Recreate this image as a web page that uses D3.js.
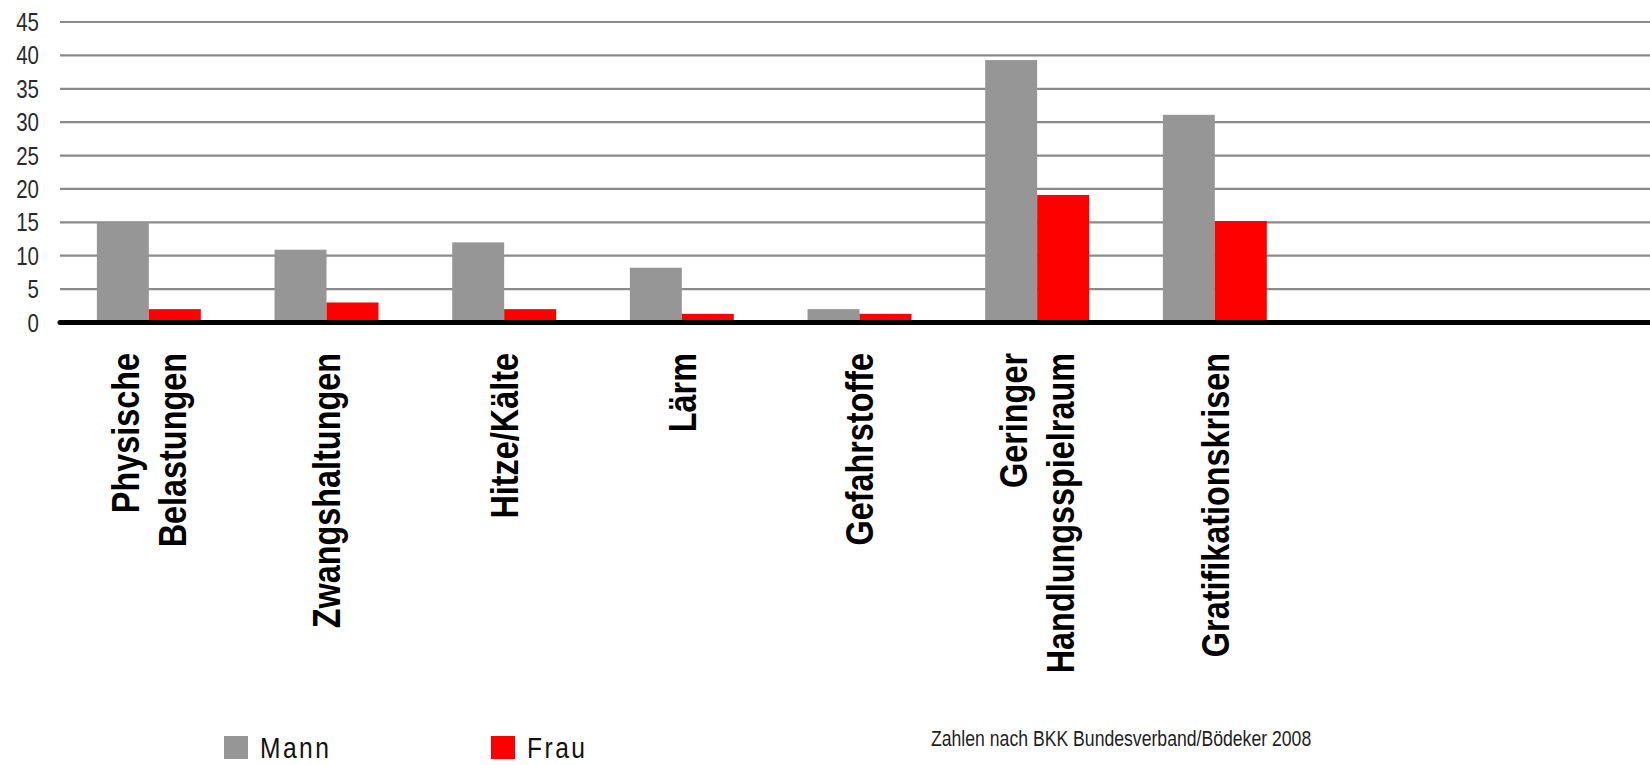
<!DOCTYPE html>
<html lang="de">
<head>
<meta charset="utf-8">
<title>Belastungen am Arbeitsplatz – Mann / Frau</title>
<script src="https://cdn.jsdelivr.net/npm/d3@7"></script>
<style>
  html, body { margin: 0; padding: 0; background: #fff; }
  svg { display: block; }
</style>
</head>
<body>
<svg id="chart" width="1650" height="765"></svg>
<script>
// ---- data -------------------------------------------------------------
const categories = [
  ["Physische", "Belastungen"],
  ["Zwangshaltungen"],
  ["Hitze/Kälte"],
  ["Lärm"],
  ["Gefahrstoffe"],
  ["Geringer", "Handlungsspielraum"],
  ["Gratifikationskrisen"],
  [],
  []
];
const seriesNames = ["Mann", "Frau"];
const mannValues = [15, 10.9, 12, 8.2, 2, 39.3, 31.1, null, null];
const frauValues = [2, 3, 2, 1.3, 1.3, 19.1, 15.2, null, null];
const yTicks = [0, 5, 10, 15, 20, 25, 30, 35, 40, 45];
const sourceNote = "Zahlen nach BKK Bundesverband/Bödeker 2008";

// ---- fonts: prefer a narrow face, otherwise squeeze a regular one ------
function fontAvailable(name) {
  const ctx = document.createElement("canvas").getContext("2d");
  const probe = "Zwangshaltungen 0123456789";
  ctx.font = "40px monospace";
  const base = ctx.measureText(probe).width;
  ctx.font = `40px "${name}", monospace`;
  return Math.abs(ctx.measureText(probe).width - base) > 0.5;
}
const narrow = fontAvailable("Liberation Sans Narrow");
const FONT = narrow ? "'Liberation Sans Narrow', 'Liberation Sans', Arial, sans-serif"
                    : "'Liberation Sans', Arial, sans-serif";
const SX = narrow ? 1 : 0.82;   // horizontal squeeze when no narrow face exists

// ---- layout -----------------------------------------------------------
const svg = d3.select("#chart");
const plotLeft = 60, plotRight = 1659;   // category axis runs past the right edge
const y0 = 322.5, yTop = 22;

const x = d3.scaleBand()
  .domain(d3.range(categories.length))
  .range([plotLeft, plotRight])
  .paddingInner(0.415)
  .paddingOuter(0.2075);

const xSub = d3.scaleBand()
  .domain(seriesNames)
  .range([0, x.bandwidth()]);

const y = d3.scaleLinear().domain([0, 45]).range([y0, yTop]);

const color = d3.scaleOrdinal().domain(seriesNames).range(["#969696", "#ff0000"]);

// ---- gridlines --------------------------------------------------------
svg.append("g")
  .selectAll("line")
  .data(yTicks.filter(t => t > 0))
  .join("line")
  .attr("x1", plotLeft)
  .attr("x2", 1650)
  .attr("y1", d => y(d))
  .attr("y2", d => y(d))
  .attr("stroke", "#8a8a8a")
  .attr("stroke-width", 2.2);

// ---- y axis labels ----------------------------------------------------
const yAxis = d3.axisLeft(y).tickValues(yTicks).tickSize(0).tickPadding(0);
const yG = svg.append("g")
  .attr("transform", `translate(${plotLeft - 21},0)`)
  .call(yAxis);
yG.select(".domain").remove();
yG.selectAll("text")
  .attr("font-family", FONT)
  .attr("font-size", 25)
  .attr("fill", "#2a2a2a")
  .attr("dy", "0.34em")
  .attr("x", 0)
  .attr("text-anchor", "end")
  .attr("transform", `scale(${SX},1)`);

// ---- bars -------------------------------------------------------------
const rows = categories.map((c, i) => ({ i, Mann: mannValues[i], Frau: frauValues[i] }));

svg.append("g")
  .selectAll("g")
  .data(rows)
  .join("g")
  .attr("transform", d => `translate(${x(d.i)},0)`)
  .selectAll("rect")
  .data(d => seriesNames.map(k => ({ key: k, value: d[k] })).filter(v => v.value != null))
  .join("rect")
  .attr("x", d => xSub(d.key))
  .attr("width", xSub.bandwidth())
  .attr("y", d => y(d.value))
  .attr("height", d => y(0) - y(d.value))
  .attr("fill", d => color(d.key));

// ---- baseline ---------------------------------------------------------
svg.append("line")
  .attr("x1", plotLeft)
  .attr("x2", 1650)
  .attr("y1", y(0))
  .attr("y2", y(0))
  .attr("stroke", "#000")
  .attr("stroke-width", 5)
  .attr("stroke-linecap", "round");

// ---- category labels (rotated, block ends just below the axis) --------
const labelTop = 353;
const lineGap = 47;
const labelG = svg.append("g");
categories.forEach((lines, i) => {
  if (!lines.length) return;
  const cx = x(i) + x.bandwidth() / 2;
  const t = labelG.append("text")
    .attr("transform", `translate(${cx},${labelTop}) rotate(-90) scale(${SX},1)`)
    .attr("text-anchor", "end")
    .attr("font-family", FONT)
    .attr("font-weight", "bold")
    .attr("font-size", 39.5)
    .attr("fill", "#000");
  const offset = -(lines.length - 1) * lineGap / 2;
  lines.forEach((ln, k) => {
    t.append("tspan")
      .attr("x", 0)
      .attr("y", offset + k * lineGap)
      .attr("dy", "0.35em")
      .text(ln);
  });
});

// ---- legend -----------------------------------------------------------
const legendX = [224, 491];
const legend = svg.append("g")
  .selectAll("g")
  .data(seriesNames)
  .join("g")
  .attr("transform", (d, i) => `translate(${legendX[i]},736)`);
legend.append("rect")
  .attr("width", 24)
  .attr("height", 23)
  .attr("fill", d => color(d));
legend.append("text")
  .attr("transform", `translate(36,21.5) scale(${SX},1)`)
  .attr("font-family", FONT)
  .attr("font-size", 30)
  .attr("letter-spacing", 3)
  .attr("fill", "#111")
  .text(d => d);

// ---- source note ------------------------------------------------------
svg.append("text")
  .attr("transform", `translate(931,746) scale(${SX},1)`)
  .attr("font-family", FONT)
  .attr("font-size", 21.5)
  .attr("fill", "#1e1e1e")
  .text(sourceNote);
</script>
</body>
</html>
